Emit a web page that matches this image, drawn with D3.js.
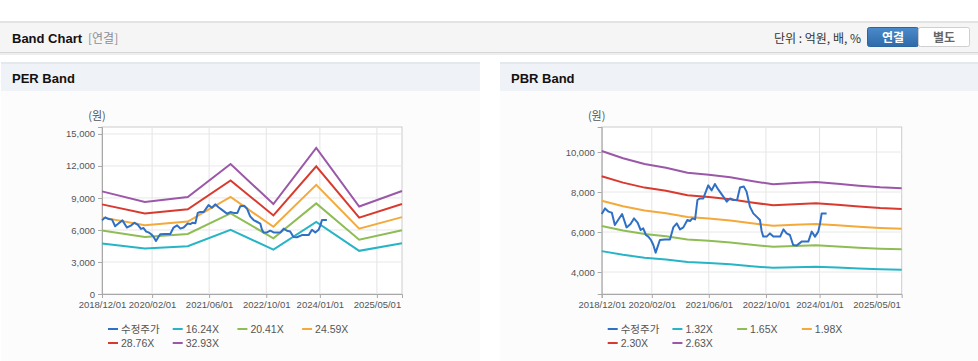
<!DOCTYPE html>
<html><head><meta charset="utf-8">
<script src="https://cdn.jsdelivr.net/npm/d3@7"></script>
<style>
body{margin:0;width:978px;height:361px;overflow:hidden;background:#fff;}
svg{display:block;font-family:"Liberation Sans","Noto Sans CJK KR",Arial,sans-serif;}
</style></head><body>
<svg id="c" width="978" height="361"></svg>
<script>
// ---------- data ----------
const xTickLabels = ["2018/12/01","2020/02/01","2021/06/01","2022/10/01","2024/01/01","2025/05/01"];
const xDomain = ["2018-12-01","2025-12-01"];

const priceDates = ["2018-12-01","2018-12-29","2019-01-27","2019-02-25","2019-03-23","2019-04-20","2019-05-24","2019-07-01","2019-08-04","2019-09-02","2019-10-03","2019-10-29","2019-11-20","2019-12-13","2020-01-02","2020-01-25","2020-02-14","2020-03-05","2020-03-22","2020-04-10","2020-05-23","2020-07-05","2020-08-02","2020-09-01","2020-09-29","2020-10-27","2020-11-30","2020-12-23","2021-01-12","2021-02-04","2021-02-24","2021-03-17","2021-04-15","2021-05-27","2021-06-25","2021-07-23","2021-08-20","2021-09-19","2021-10-17","2021-11-01","2021-11-29","2021-12-27","2022-01-28","2022-02-22","2022-03-27","2022-04-19","2022-05-17","2022-06-15","2022-07-13","2022-08-11","2022-08-25","2022-09-08","2022-10-07","2022-11-04","2022-12-03","2023-01-30","2023-02-27","2023-03-26","2023-04-23","2023-05-21","2023-06-19","2023-08-01","2023-09-27","2023-10-26","2023-11-23","2023-12-21","2024-01-05","2024-01-19","2024-03-01"];
const priceValues = [6900,7180,7020,6970,6350,6600,6900,6230,6400,6680,6470,6100,6180,5850,5770,5600,5350,4970,5270,5600,5630,5630,6230,6430,6130,6230,6600,6550,6680,6630,7600,7680,7680,8330,8080,8400,8130,7880,7650,7520,7680,7600,7600,8230,8270,8020,7270,6930,6770,6600,6050,5770,5770,5930,5770,5770,6130,5930,5850,5350,5320,5520,5520,6020,5770,6020,6430,6930,6930];

const perBandDates = ["2018-12-01","2019-12-01","2020-12-01","2021-12-01","2022-12-01","2023-12-01","2024-12-01","2025-12-01"];
const per1624 = [4742,4255,4482,6009,4157,6756,4044,4758];
const per2041 = [5960,5347,5633,7552,5225,8491,5082,5980];
const per2459 = [7180,6443,6787,9098,6295,10229,6123,7205];
const per2876 = [8398,7535,7938,10641,7363,11964,7161,8427];
const per3293 = [9616,8628,9089,12184,8430,13699,8200,9649];
const perYTicks = [0,3000,6000,9000,12000,15000];
const perLegend = ["수정주가","16.24X","20.41X","24.59X","28.76X","32.93X"];

const pbrBandDates = ["2018-12-01","2019-06-01","2019-12-01","2020-06-01","2020-12-01","2021-06-01","2021-12-01","2022-06-01","2022-12-01","2023-06-01","2023-12-01","2024-06-01","2024-12-01","2025-06-01","2025-12-01"];
const pbr132 = [5044,4860,4718,4625,4500,4450,4384,4291,4208,4241,4266,4224,4174,4133,4107];
const pbr165 = [6305,6075,5897,5782,5625,5562,5480,5364,5260,5302,5333,5280,5217,5166,5133];
const pbr198 = [7566,7290,7077,6938,6750,6675,6576,6437,6312,6362,6399,6336,6261,6199,6160];
const pbr230 = [8788,8469,8220,8059,7841,7753,7638,7477,7332,7390,7434,7360,7273,7201,7155];
const pbr263 = [10049,9684,9400,9216,8966,8866,8734,8550,8384,8450,8500,8416,8316,8235,8182];
const pbrYTicks = [4000,6000,8000,10000];
const pbrLegend = ["수정주가","1.32X","1.65X","1.98X","2.30X","2.63X"];

const colors = ["#2f70c6","#27b5c6","#8fbd55","#f4a93b","#d93a2f","#9b58a8"];

// ---------- drawing ----------
const svg = d3.select("#c");
const parse = d3.timeParse("%Y-%m-%d");
const parseTick = d3.timeParse("%Y/%m/%d");
const KR = "'Noto Sans CJK KR','Liberation Sans',sans-serif";
const LAT = "'Liberation Sans',Arial,sans-serif";

// top header bar
svg.append("rect").attr("x",0).attr("y",21).attr("width",978).attr("height",2).attr("fill","#e3e3e3");
svg.append("rect").attr("x",0).attr("y",23).attr("width",978).attr("height",29).attr("fill","#f5f5f5");
svg.append("rect").attr("x",0).attr("y",52).attr("width",978).attr("height",1).attr("fill","#d6d6d6");
svg.append("rect").attr("x",0).attr("y",53).attr("width",978).attr("height",2).attr("fill","#eeeeee");
svg.append("text").attr("x",12).attr("y",43).attr("font-size",13).attr("font-weight","bold").attr("fill","#111").text("Band Chart");
svg.append("text").attr("x",88).attr("y",43).attr("font-size",12).attr("fill","#8a8f99").style("font-family",KR).text("[연결]");
svg.append("text").attr("x",861).attr("y",43).attr("text-anchor","end").attr("font-size",12).attr("fill","#333").style("font-family",KR).text("단위 : 억원, 배, %");
const grad = svg.append("defs").append("linearGradient").attr("id","btn").attr("x1",0).attr("y1",0).attr("x2",0).attr("y2",1);
grad.append("stop").attr("offset","0").attr("stop-color","#4b8acb");
grad.append("stop").attr("offset","1").attr("stop-color","#2f6aa9");
svg.append("rect").attr("x",867.5).attr("y",27.5).attr("width",51).attr("height",19).attr("rx",2).attr("fill","url(#btn)").attr("stroke","#2c64a0");
svg.append("rect").attr("x",918.5).attr("y",27.5).attr("width",51).attr("height",19).attr("rx",2).attr("fill","#fff").attr("stroke","#cfcfcf");
svg.append("text").attr("x",893).attr("y",42).attr("text-anchor","middle").attr("font-size",12).attr("font-weight","bold").attr("fill","#fff").style("font-family",KR).text("연결");
svg.append("text").attr("x",944).attr("y",42).attr("text-anchor","middle").attr("font-size",12).attr("font-weight","bold").attr("fill","#666").style("font-family",KR).text("별도");

function panel(x0, x1, title) {
  svg.append("rect").attr("x",x0).attr("y",91).attr("width",x1-x0).attr("height",270).attr("fill","#fcfcfc");
  svg.append("rect").attr("x",x0).attr("y",62).attr("width",x1-x0).attr("height",2).attr("fill","#e4e7ec");
  svg.append("rect").attr("x",x0).attr("y",64).attr("width",x1-x0).attr("height",27).attr("fill","#eff2f7");
  svg.append("text").attr("x",x0+11).attr("y",83).attr("font-size",13).attr("font-weight","bold").attr("fill","#111").text(title);
}
panel(1,480,"PER Band");
panel(500,978,"PBR Band");

function chart(o) {
  const g = svg.append("g");
  const x = d3.scaleTime().domain(xDomain.map(parse)).range([o.left, o.right]);
  const y = d3.scaleLinear().domain(o.yDomain).range([o.bottom, o.top]);
  const ticks = xTickLabels.map(parseTick);
  g.append("rect").attr("x",o.left).attr("y",o.top).attr("width",o.right-o.left).attr("height",o.bottom-o.top)
    .attr("fill","#fff").attr("stroke","#cccccc");
  // grid
  g.selectAll(".vg").data(ticks.slice(1)).join("line")
    .attr("x1",d=>x(d)).attr("x2",d=>x(d)).attr("y1",o.top).attr("y2",o.bottom).attr("stroke","#e4e4e4");
  g.selectAll(".hg").data(o.yTicks).join("line")
    .attr("x1",o.left).attr("x2",o.right).attr("y1",d=>y(d)).attr("y2",d=>y(d)).attr("stroke","#e8e8e8");
  // axes
  const ya = g.append("g").attr("transform",`translate(${o.left},0)`)
    .call(d3.axisLeft(y).tickValues(o.yTicks).tickSize(4).tickPadding(3).tickFormat(d3.format(",")));
  const xa = g.append("g").attr("transform",`translate(0,${o.bottom})`)
    .call(d3.axisBottom(x).tickValues(ticks).tickSize(4).tickPadding(3).tickFormat(d3.timeFormat("%Y/%m/%d")));
  [ya,xa].forEach(a=>{
    a.select(".domain").attr("stroke","#a8a8a8");
    a.selectAll(".tick line").attr("stroke","#a8a8a8");
    a.selectAll(".tick text").attr("fill","#555").attr("font-size",9.5).style("font-family",LAT);
  });
  g.append("text").attr("x",o.left-5).attr("y",o.top-7).attr("text-anchor","middle").attr("font-size",11)
    .attr("fill","#555").style("font-family",KR).text("(원)");
  // lines
  const line = d3.line().x(d=>x(d[0])).y(d=>y(d[1]));
  const bd = o.bandDates.map(parse);
  o.bands.forEach((vals,i)=>{
    g.append("path").datum(vals.map((v,j)=>[bd[j],v])).attr("d",line)
      .attr("fill","none").attr("stroke",colors[i+1]).attr("stroke-width",2);
  });
  const pd = priceDates.map(parse);
  g.append("path").datum(priceValues.map((v,j)=>[pd[j],v])).attr("d",line)
    .attr("fill","none").attr("stroke",colors[0]).attr("stroke-width",2).attr("stroke-linejoin","round");
  // legend
  o.legend.forEach((lab,i)=>{
    const col = i%4, row = Math.floor(i/4);
    const lx = o.left + 6 + col*64.7, ly = 329 + row*14;
    g.append("line").attr("x1",lx).attr("x2",lx+10).attr("y1",ly).attr("y2",ly).attr("stroke",colors[i]).attr("stroke-width",2);
    g.append("text").attr("x",lx+13).attr("y",ly+4).attr("font-size",i===0?10.5:10.5).attr("fill","#555")
      .style("font-family",i===0?KR:LAT).text(lab);
  });
}

chart({left:102,right:402,top:127,bottom:294,yDomain:[0,15650],yTicks:perYTicks,
  bandDates:perBandDates,bands:[per1624,per2041,per2459,per2876,per3293],legend:perLegend});
chart({left:601.7,right:901.7,top:127,bottom:294,yDomain:[2900,11250],yTicks:pbrYTicks,
  bandDates:pbrBandDates,bands:[pbr132,pbr165,pbr198,pbr230,pbr263],legend:pbrLegend});
</script></body></html>
